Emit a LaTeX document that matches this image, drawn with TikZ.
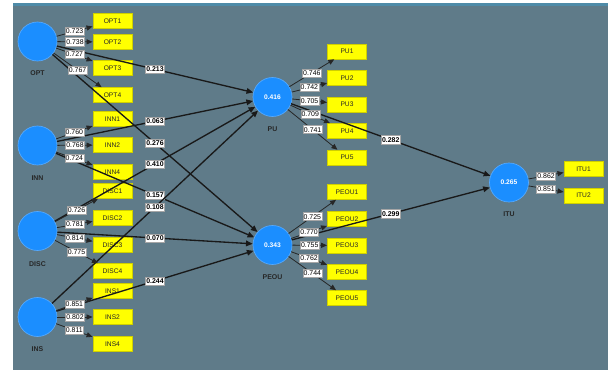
\documentclass[tikz,border=0pt]{standalone}
\usepackage{fontspec}
\setmainfont{Liberation Sans}
\usetikzlibrary{arrows.meta}
\definecolor{bg}{HTML}{5F7B89}
\definecolor{band}{HTML}{4E8BA8}
\definecolor{lv}{HTML}{1B8EFF}
\definecolor{lvb}{HTML}{55AAFF}
\definecolor{ind}{HTML}{FFFF00}
\definecolor{indb}{HTML}{CFCF00}
\tikzset{
  latent/.style={circle, fill=lv, draw=lvb, line width=0.5pt, minimum size=29.25pt, inner sep=0pt, text=white, font=\fontsize{5}{6}\selectfont\bfseries},
  indic/.style={rectangle, fill=ind, draw=indb, line width=0.4pt, minimum width=29.5pt, minimum height=11.25pt, inner sep=0pt, font=\fontsize{5}{6}\selectfont, text=black!85},
  lvname/.style={font=\fontsize{5.2}{6}\selectfont\bfseries, text=black!85, inner sep=0pt},
  load/.style={draw=black!85, line width=0.6pt, -{Triangle[length=4.5pt,width=3.8pt]}},
  strpath/.style={draw=black!90, line width=1pt, -{Triangle[length=5pt,width=4.2pt]}},
  wlbl/.style={fill=white, draw=gray!70, line width=0.3pt, inner xsep=0.6pt, inner ysep=1.2pt, font=\fontsize{5.2}{6}\selectfont, text=black},
  slbl/.style={wlbl, font=\fontsize{5.2}{6}\selectfont\bfseries},
}
\begin{document}
\begin{tikzpicture}[x=0.75pt,y=-0.75pt]
\fill[white] (0,0) rectangle (608,370);
\fill[bg] (13,3) rectangle (608,370);
\fill[band] (13,3) rectangle (608,6.5);
\useasboundingbox (0,0) rectangle (608,370);

% latent variables
\node[latent] (OPT) at (37.5,41.5) {};
\node[lvname] (OPTn) at (37.5,73) {OPT};
\node[latent] (INN) at (37.5,145.5) {};
\node[lvname] (INNn) at (37.5,178) {INN};
\node[latent] (DISC) at (37.5,231) {};
\node[lvname] (DISCn) at (37.5,264) {DISC};
\node[latent] (INS) at (37.5,317) {};
\node[lvname] (INSn) at (37.5,349) {INS};
\node[latent] (PU) at (272.5,97) {0.416};
\node[lvname] (PUn) at (272.5,129) {PU};
\node[latent] (PEOU) at (272.5,245) {0.343};
\node[lvname] (PEOUn) at (272.5,277) {PEOU};
\node[latent] (ITU) at (509,182.5) {0.265};
\node[lvname] (ITUn) at (509,214) {ITU};

% indicators
\node[indic] (OPT1) at (112.5,21) {OPT1};
\node[indic] (OPT2) at (112.5,42) {OPT2};
\node[indic] (OPT3) at (112.5,68) {OPT3};
\node[indic] (OPT4) at (112.5,95) {OPT4};
\node[indic] (INN1) at (112.5,119) {INN1};
\node[indic] (INN2) at (112.5,145) {INN2};
\node[indic] (INN4) at (112.5,172) {INN4};
\node[indic] (DISC1) at (112.5,191) {DISC1};
\node[indic] (DISC2) at (112.5,218) {DISC2};
\node[indic] (DISC3) at (112.5,245) {DISC3};
\node[indic] (DISC4) at (112.5,271) {DISC4};
\node[indic] (INS1) at (112.5,291) {INS1};
\node[indic] (INS2) at (112.5,317) {INS2};
\node[indic] (INS4) at (112.5,344) {INS4};
\node[indic] (PU1) at (347,51.5) {PU1};
\node[indic] (PU2) at (347,78) {PU2};
\node[indic] (PU3) at (347,104.5) {PU3};
\node[indic] (PU4) at (347,131) {PU4};
\node[indic] (PU5) at (347,157.5) {PU5};
\node[indic] (PEOU1) at (347,192) {PEOU1};
\node[indic] (PEOU2) at (347,219) {PEOU2};
\node[indic] (PEOU3) at (347,245.5) {PEOU3};
\node[indic] (PEOU4) at (347,272) {PEOU4};
\node[indic] (PEOU5) at (347,298) {PEOU5};
\node[indic] (ITU1) at (583.5,169) {ITU1};
\node[indic] (ITU2) at (583.5,195.5) {ITU2};

% structural paths
\draw[strpath] (OPT) -- node[slbl]{0.213} (PU);
\draw[strpath] (OPT) -- node[slbl]{0.276} (PEOU);
\draw[strpath] (INN) -- node[slbl]{0.063} (PU);
\draw[strpath] (INN) -- node[slbl]{0.157} (PEOU);
\draw[strpath] (DISC) -- node[slbl]{0.410} (PU);
\draw[strpath] (DISC) -- node[slbl]{0.070} (PEOU);
\draw[strpath] (INS) -- node[slbl]{0.108} (PU);
\draw[strpath] (INS) -- node[slbl]{0.244} (PEOU);
\draw[strpath] (PU) -- node[slbl]{0.282} (ITU);
\draw[strpath] (PEOU) -- node[slbl]{0.299} (ITU);

% loadings
\draw[load] (OPT) -- node[wlbl]{0.723} (OPT1);
\draw[load] (OPT) -- node[wlbl]{0.738} (OPT2);
\draw[load] (OPT) -- node[wlbl]{0.727} (OPT3);
\draw[load] (OPT) -- node[wlbl]{0.767} (OPT4);
\draw[load] (INN) -- node[wlbl]{0.760} (INN1);
\draw[load] (INN) -- node[wlbl]{0.768} (INN2);
\draw[load] (INN) -- node[wlbl]{0.724} (INN4);
\draw[load] (DISC) -- node[wlbl]{0.726} (DISC1);
\draw[load] (DISC) -- node[wlbl]{0.781} (DISC2);
\draw[load] (DISC) -- node[wlbl]{0.814} (DISC3);
\draw[load] (DISC) -- node[wlbl]{0.775} (DISC4);
\draw[load] (INS) -- node[wlbl]{0.851} (INS1);
\draw[load] (INS) -- node[wlbl]{0.802} (INS2);
\draw[load] (INS) -- node[wlbl]{0.811} (INS4);
\draw[load] (PU) -- node[wlbl]{0.746} (PU1);
\draw[load] (PU) -- node[wlbl]{0.742} (PU2);
\draw[load] (PU) -- node[wlbl]{0.705} (PU3);
\draw[load] (PU) -- node[wlbl]{0.709} (PU4);
\draw[load] (PU) -- node[wlbl]{0.741} (PU5);
\draw[load] (PEOU) -- node[wlbl]{0.725} (PEOU1);
\draw[load] (PEOU) -- node[wlbl]{0.770} (PEOU2);
\draw[load] (PEOU) -- node[wlbl]{0.755} (PEOU3);
\draw[load] (PEOU) -- node[wlbl]{0.762} (PEOU4);
\draw[load] (PEOU) -- node[wlbl]{0.744} (PEOU5);
\draw[load] (ITU) -- node[wlbl]{0.862} (ITU1);
\draw[load] (ITU) -- node[wlbl]{0.851} (ITU2);
\end{tikzpicture}
\end{document}
